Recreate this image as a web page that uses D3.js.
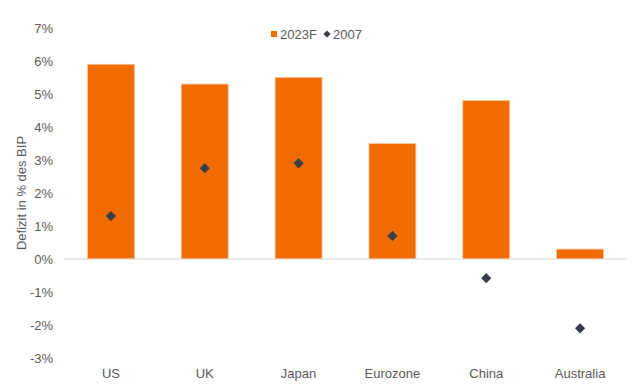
<!DOCTYPE html>
<html>
<head>
<meta charset="utf-8">
<script src="https://cdn.jsdelivr.net/npm/d3@7"></script>
<style>
  body { margin: 0; background: #fff; }
  text { font-family: "Liberation Sans", Arial, sans-serif; }
</style>
</head>
<body>
<script>
const countries = ['US', 'UK', 'Japan', 'Eurozone', 'China', 'Australia']
const deficit2023 = [5.9, 5.3, 5.5, 3.5, 4.8, 0.3]
const deficit2007 = [1.3, 2.75, 2.9, 0.7, -0.58, -2.1]
const yTicks = [-3, -2, -1, 0, 1, 2, 3, 4, 5, 6, 7]

const width = 640, height = 384
const orange = '#f06c00', dark = '#383d48', grey = '#595959'

const svg = d3.select('body').append('svg')
    .attr('width', width)
    .attr('height', height)

const x = d3.scaleBand()
    .domain(countries)
    .range([64, 627])
    .paddingInner(0.5)
    .paddingOuter(0.25)

const y = d3.scaleLinear()
    .domain([-3, 7])
    .range([358, 28])

// y axis labels
svg.append('g')
    .selectAll('text')
    .data(yTicks)
    .enter().append('text')
    .attr('x', 53)
    .attr('y', d => y(d))
    .attr('dy', '0.35em')
    .attr('text-anchor', 'end')
    .attr('font-size', 13)
    .attr('fill', grey)
    .text(d => d + '%')

svg.append('text')
    .attr('transform', `translate(26,${y(2)}) rotate(-90)`)
    .attr('text-anchor', 'middle')
    .attr('font-size', 13)
    .attr('fill', grey)
    .text('Defizit in % des BIP')

// bars
svg.append('g')
    .selectAll('rect')
    .data(countries)
    .enter().append('rect')
    .attr('x', d => x(d))
    .attr('width', x.bandwidth())
    .attr('y', (d, i) => y(Math.max(0, deficit2023[i])))
    .attr('height', (d, i) => Math.abs(y(deficit2023[i]) - y(0)))
    .attr('fill', orange)
    .attr('stroke', '#f8c49a')
    .attr('stroke-width', 0.8)

// zero line
svg.append('line')
    .attr('x1', 64).attr('x2', 627)
    .attr('y1', y(0)).attr('y2', y(0))
    .attr('stroke', '#d9d9d9')
    .attr('stroke-width', 1)

// diamonds
const diamond = d3.symbol().type(d3.symbolSquare).size(52)
svg.append('g')
    .selectAll('path')
    .data(countries)
    .enter().append('path')
    .attr('d', diamond)
    .attr('transform', (d, i) => `translate(${x(d) + x.bandwidth() / 2},${y(deficit2007[i])}) rotate(45)`)
    .attr('fill', dark)

// category labels
svg.append('g')
    .selectAll('text')
    .data(countries)
    .enter().append('text')
    .attr('x', d => x(d) + x.bandwidth() / 2)
    .attr('y', 373)
    .attr('dy', '0.35em')
    .attr('text-anchor', 'middle')
    .attr('font-size', 13)
    .attr('fill', grey)
    .text(d => d)

// legend
const legend = svg.append('g')
legend.append('rect')
    .attr('x', 271).attr('y', 31)
    .attr('width', 6).attr('height', 6)
    .attr('fill', orange)
legend.append('text')
    .attr('x', 280).attr('y', 34)
    .attr('dy', '0.35em')
    .attr('font-size', 13)
    .attr('fill', grey)
    .text('2023F')
legend.append('path')
    .attr('d', d3.symbol().type(d3.symbolSquare).size(26))
    .attr('transform', 'translate(327,34) rotate(45)')
    .attr('fill', dark)
legend.append('text')
    .attr('x', 333).attr('y', 34)
    .attr('dy', '0.35em')
    .attr('font-size', 13)
    .attr('fill', grey)
    .text('2007')
</script>
</body>
</html>
